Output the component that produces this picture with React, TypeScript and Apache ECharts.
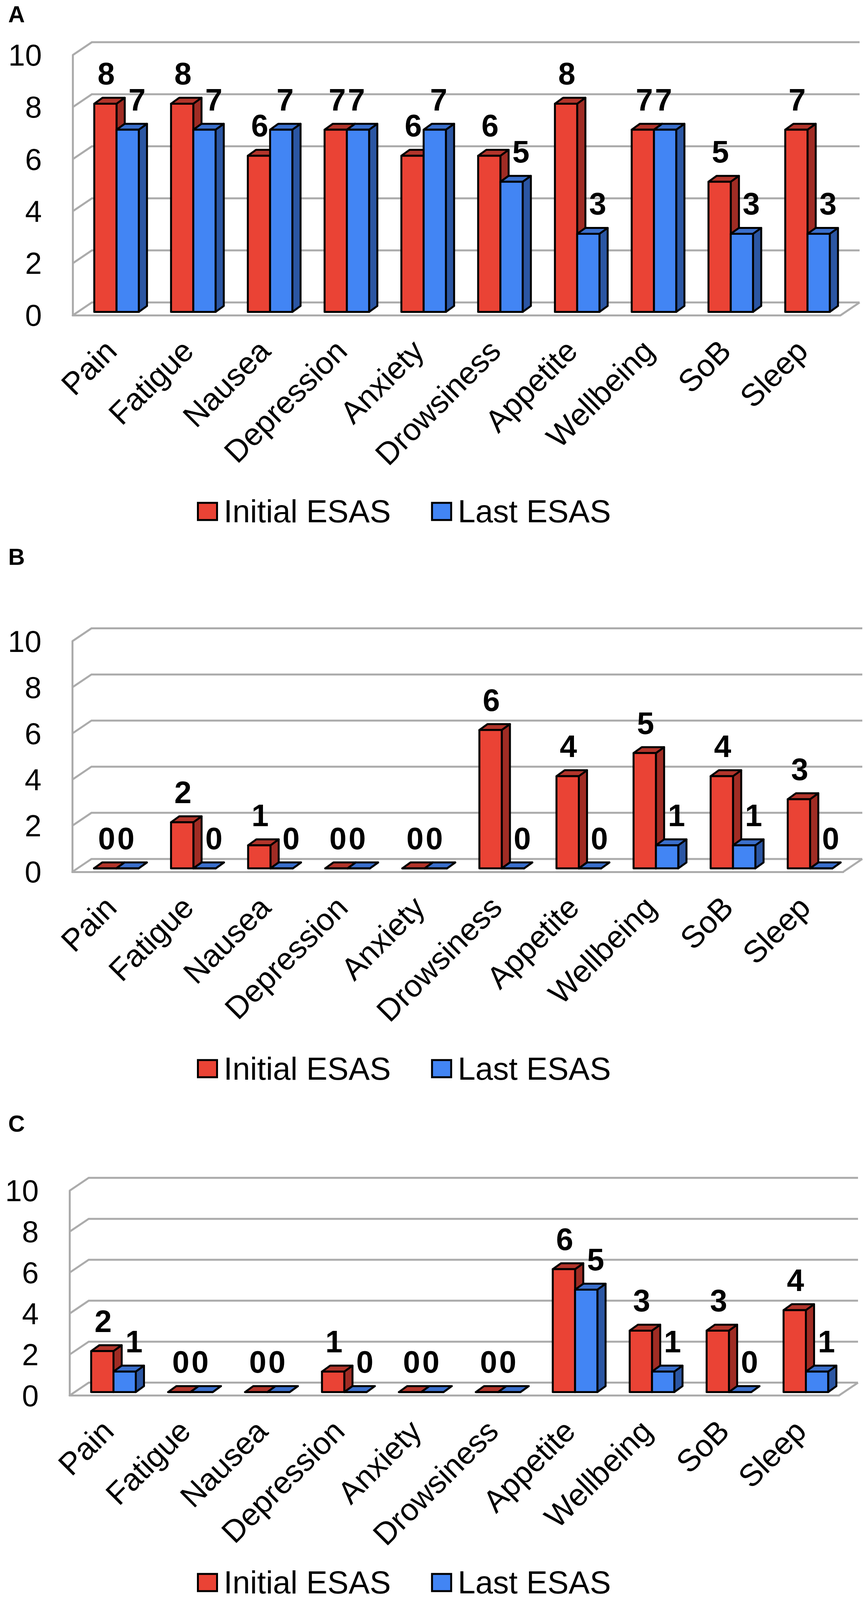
import React, { useEffect, useRef } from 'react';
import * as echarts from 'echarts';

const categories = ['Pain', 'Fatigue', 'Nausea', 'Depression', 'Anxiety', 'Drowsiness', 'Appetite', 'Wellbeing', 'SoB', 'Sleep'];
const seriesNames = ['Initial ESAS', 'Last ESAS'];
const initialA = [8, 8, 6, 7, 6, 6, 8, 7, 5, 7];
const lastA = [7, 7, 7, 7, 7, 5, 3, 7, 3, 3];
const initialB = [0, 2, 1, 0, 0, 6, 4, 5, 4, 3];
const lastB = [0, 0, 0, 0, 0, 0, 0, 1, 1, 0];
const initialC = [2, 0, 0, 1, 0, 0, 6, 3, 3, 4];
const lastC = [1, 0, 0, 0, 0, 0, 5, 1, 0, 1];
const yTicks = [0, 2, 4, 6, 8, 10];
const panelLetters = ['A', 'B', 'C'];

const FONT = '"Liberation Sans", Arial, Helvetica, sans-serif';
const RED = '#EA4335';
const RED_TOP = '#B3352B';
const RED_SIDE = '#A02C24';
const BLUE = '#4285F4';
const BLUE_TOP = '#3A6FCC';
const BLUE_SIDE = '#2B56A3';
const GRID_COLOR = '#ABABAB';

const FULL_W = 2219;
const FULL_H = 4586;

const panels = [
  { initial: initialA, last: lastA, grid: { left: 186, top: 158, width: 1965, height: 746 }, letterY: 41, legendY: 1466 },
  { initial: initialB, last: lastB, grid: { left: 185, top: 1838, width: 1973, height: 661 }, letterY: 1597, legendY: 3063 },
  { initial: initialC, last: lastC, grid: { left: 178, top: 3413, width: 1969, height: 587 }, letterY: 3221, legendY: 4536 },
];

function buildOption(sy: number) {
  const fs = Math.sqrt(sy);
  const DX = 49;
  const DY = 37 * sy;
  const BDX = 21;
  const BDY = 17 * sy;
  const FX = (DX - BDX) / 2;
  const FY = (DY - BDY) / 2;

  const wallRender = (params: any, api: any) => {
    const cs = params.coordSys;
    const v = api.value(1);
    const y = api.coord([0, v])[1];
    const style = { stroke: GRID_COLOR, lineWidth: 5, fill: null };
    const children: any[] = [
      {
        type: 'polyline',
        shape: { points: [[cs.x, y], [cs.x + DX, y - DY], [cs.x + cs.width + DX, y - DY]] },
        style,
      },
    ];
    if (v === 0) {
      children.push({
        type: 'polyline',
        shape: { points: [[cs.x + cs.width, y], [cs.x + cs.width + DX, y - DY]] },
        style,
      });
    }
    return { type: 'group', children };
  };

  const makeBarRender = (s: number, reds: number[], blues: number[]) => (params: any, api: any) => {
    const i = api.value(0);
    const v = api.value(1);
    const band = api.size([1, 0])[0];
    const bw = band * 0.29;
    const base = api.coord([i, 0]);
    const top = api.coord([i, v]);
    const x = base[0] - bw + s * bw + FX;
    const yb = base[1] - FY;
    const yt = top[1] - FY;
    const front = s === 0 ? RED : BLUE;
    const topC = s === 0 ? RED_TOP : BLUE_TOP;
    const side = s === 0 ? RED_SIDE : BLUE_SIDE;
    const stroke = { stroke: '#000', lineWidth: 5, lineJoin: 'round' };
    const r = reds[i];
    const b = blues[i];
    let shift = 0;
    if (s === 0) shift = r === b ? 4 : 2;
    else shift = r > b ? 24 : b > r ? 10 : -4;
    return {
      type: 'group',
      children: [
        {
          type: 'polygon',
          shape: { points: [[x + bw, yt], [x + bw + BDX, yt - BDY], [x + bw + BDX, yb - BDY], [x + bw, yb]] },
          style: { fill: side, ...stroke },
        },
        {
          type: 'polygon',
          shape: { points: [[x, yt], [x + BDX, yt - BDY], [x + bw + BDX, yt - BDY], [x + bw, yt]] },
          style: { fill: topC, ...stroke },
        },
        {
          type: 'rect',
          shape: { x, y: yt, width: bw, height: yb - yt },
          style: { fill: front, ...stroke },
        },
        {
          type: 'text',
          z2: 100,
          style: {
            text: String(v),
            x: x + bw / 2 + shift,
            y: yt - 86 * sy,
            fill: '#000',
            fontSize: Math.round(84 * fs),
            fontWeight: 'bold',
            fontFamily: FONT,
            align: 'center',
            verticalAlign: 'middle',
          },
        },
      ],
    };
  };

  const series: any[] = [];
  panels.forEach((p, k) => {
    series.push({
      type: 'custom',
      name: 'wall' + k,
      xAxisIndex: k,
      yAxisIndex: k,
      z: 1,
      silent: true,
      clip: false,
      data: yTicks.map((v) => [0, v]),
      encode: { x: 0, y: 1 },
      renderItem: wallRender,
    });
    [p.initial, p.last].forEach((arr, s) => {
      series.push({
        type: 'custom',
        name: seriesNames[s],
        xAxisIndex: k,
        yAxisIndex: k,
        z: 2,
        clip: false,
        itemStyle: { color: s === 0 ? RED : BLUE, borderColor: '#000', borderWidth: 5 },
        data: arr.map((v, i) => [i, v]),
        encode: { x: 0, y: 1 },
        renderItem: makeBarRender(s, p.initial, p.last),
      });
    });
  });

  const legendFont = Math.round(86 * fs);
  const markerH = Math.round(49 * sy);
  return {
    animation: false,
    backgroundColor: '#fff',
    grid: panels.map((p) => ({
      left: p.grid.left,
      width: p.grid.width,
      top: p.grid.top * sy,
      height: p.grid.height * sy,
    })),
    xAxis: panels.map((p, k) => ({
      type: 'category',
      gridIndex: k,
      data: categories,
      axisLine: { show: true, lineStyle: { color: GRID_COLOR, width: 5 } },
      axisTick: { show: false },
      splitLine: { show: false },
      axisLabel: { interval: 0, rotate: 45, margin: 86 * sy, fontSize: Math.round(85 * fs), fontFamily: FONT, color: '#000' },
    })),
    yAxis: panels.map((p, k) => ({
      type: 'value',
      gridIndex: k,
      min: 0,
      max: 10,
      interval: 2,
      axisLine: { show: true, lineStyle: { color: GRID_COLOR, width: 5 } },
      axisTick: { show: false },
      splitLine: { show: false },
      axisLabel: { margin: 79, fontSize: Math.round(82 * fs), fontFamily: FONT, color: '#000' },
    })),
    legend: panels.map((p) => ({
      data: seriesNames,
      left: 504,
      top: p.legendY * sy - legendFont / 2,
      padding: 0,
      itemWidth: 49,
      itemHeight: markerH,
      itemGap: 103,
      icon: 'rect',
      selectedMode: false,
      itemStyle: { borderColor: '#000', borderWidth: 5 },
      textStyle: { fontSize: legendFont, fontFamily: FONT, color: '#000', padding: [0, 0, 0, 12] },
    })),
    graphic: panels.map((p, k) => ({
      type: 'text',
      x: 21,
      y: p.letterY * sy,
      style: {
        text: panelLetters[k],
        fill: '#000',
        fontSize: Math.round(62 * fs),
        fontWeight: 'bold',
        fontFamily: FONT,
        align: 'left',
        verticalAlign: 'middle',
      },
    })),
    series,
  };
}

export default function App() {
  const ref = useRef<HTMLDivElement>(null);
  useEffect(() => {
    document.body.style.margin = '0';
    const el = ref.current;
    if (!el) return;
    const vh = window.innerHeight || FULL_H;
    const sy = Math.min(1, vh / FULL_H);
    el.style.height = Math.floor(FULL_H * sy) + 'px';
    const chart = echarts.init(el, undefined, { renderer: 'svg' });
    chart.setOption(buildOption(sy));
    return () => chart.dispose();
  }, []);
  return <div ref={ref} style={{ position: 'absolute', left: 0, top: 0, width: FULL_W, height: FULL_H }} />;
}
